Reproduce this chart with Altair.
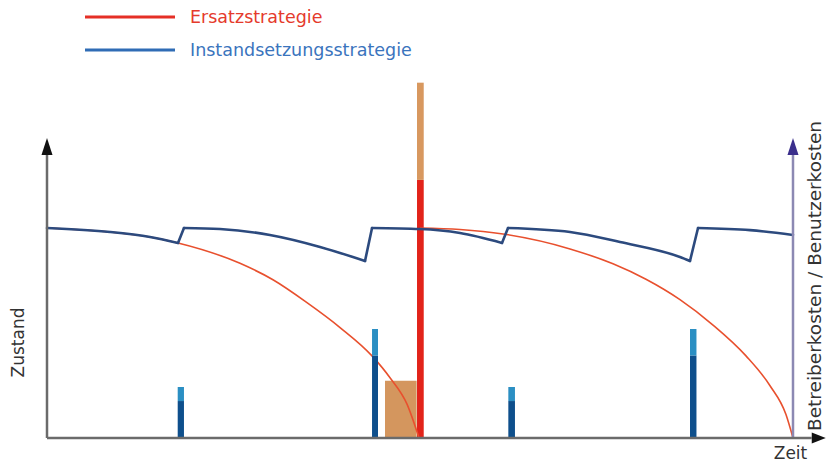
import altair as alt
import pandas as pd

# ---------------- data ----------------
# Instandsetzungsstrategie: condition per deterioration segment (Zeit, Zustand)
blue_seg_t = [
    [0.0, 8.45, 13.81, 17.56],
    [18.36, 23.19, 29.88, 36.60, 42.63],
    [43.57, 50.0, 55.36, 60.99],
    [61.80, 70.11, 76.81, 84.85, 86.19],
    [87.27, 94.24, 100.0],
]
blue_seg_z = [
    [100.0, 98.1, 95.7, 92.9],
    [100.0, 99.5, 96.7, 91.0, 84.3],
    [100.0, 99.5, 97.6, 92.9],
    [100.0, 98.1, 93.3, 86.2, 84.3],
    [100.0, 99.0, 96.7],
]
# Ersatzstrategie: condition per life cycle
red_seg_t = [
    [0.0, 8.45, 13.81, 17.56, 25.87, 30.29, 34.85, 39.28, 43.57, 45.98, 48.26, 49.87],
    [50.0, 55.36, 61.13, 70.11, 75.87, 80.29, 84.85, 89.28, 93.70, 96.92, 99.06, 100.0],
]
red_seg_z = [
    [100.0, 98.10, 95.73, 92.89, 83.18, 75.36, 64.46, 52.61, 39.10, 28.68, 16.12, 0.0],
    [100.0, 99.29, 97.16, 90.05, 82.94, 75.59, 65.88, 53.79, 39.10, 24.88, 11.14, 0.0],
]
# maintenance cost bars (Betreiberkosten dark, Benutzerkosten light)
maint_t0 = [17.52, 43.57, 61.84, 86.19]
maint_t1 = [18.36, 44.37, 62.73, 87.06]
maint_oper = [17.6, 39.3, 17.6, 39.3]
maint_total = [24.3, 51.9, 24.3, 51.9]
# replacement costs
user_block_t = [45.31, 49.55]
user_block_top = 27.3
repl_t = [49.6, 50.5]
repl_oper = 122.9
repl_total = 169.2

legend_labels = ["Ersatzstrategie", "Instandsetzungsstrategie"]
axis_y_title = "Zustand"
axis_y2_title = "Betreiberkosten / Benutzerkosten"
axis_x_title = "Zeit"

# ---------------- styling ----------------
BLUE_LINE = "#2c4a7e"
RED_LINE = "#e8502e"
DARK_BAR = "#0e4f8c"
LIGHT_BAR = "#2b8fc3"
ORANGE = "#d4965e"
RED_BAR = "#e2231a"
TAN = "#d8985f"
AXIS_GRAY = "#6b6b6b"
AXIS_PURPLE = "#8c89b3"
FONT = "DejaVu Sans"

W, H = 818, 456
xs = alt.Scale(domain=[-5.228, 104.424], nice=False, zero=False)
ys = alt.Scale(domain=[-12.381, 204.762], nice=False, zero=False)


def X(f):
    return alt.X(f, type="quantitative", scale=xs, axis=None)


def Y(f):
    return alt.Y(f, type="quantitative", scale=ys, axis=None)


def seg_df(ts, zs):
    rows = []
    for s, (tt, zz) in enumerate(zip(ts, zs)):
        for i, (t, z) in enumerate(zip(tt, zz)):
            rows.append({"seg": s, "i": i, "t": t, "z": z})
    return pd.DataFrame(rows)


def rect_layer(df, color):
    return alt.Chart(df).mark_rect(color=color).encode(
        x=X("t0"), x2="t1", y=Y("z0"), y2="z1")


blue_df = seg_df(blue_seg_t, blue_seg_z)
red_df = seg_df(red_seg_t, red_seg_z)
jump_rows = []
for s in range(len(blue_seg_t) - 1):
    jump_rows.append({"j": s, "i": 0, "t": blue_seg_t[s][-1], "z": blue_seg_z[s][-1]})
    jump_rows.append({"j": s, "i": 1, "t": blue_seg_t[s + 1][0], "z": blue_seg_z[s + 1][0]})
jump_df = pd.DataFrame(jump_rows)

oper_df = pd.DataFrame({"t0": maint_t0, "t1": maint_t1, "z0": [0.0] * 4, "z1": maint_oper})
user_df = pd.DataFrame({"t0": maint_t0, "t1": maint_t1, "z0": maint_oper, "z1": maint_total})
block_df = pd.DataFrame({"t0": [user_block_t[0]], "t1": [user_block_t[1]], "z0": [0.0], "z1": [user_block_top]})
repl_oper_df = pd.DataFrame({"t0": [repl_t[0]], "t1": [repl_t[1]], "z0": [0.0], "z1": [repl_oper]})
repl_user_df = pd.DataFrame({"t0": [repl_t[0]], "t1": [repl_t[1]], "z0": [repl_oper], "z1": [repl_total]})

red_layer = alt.Chart(red_df).mark_line(color=RED_LINE, strokeWidth=1.6, interpolate="monotone").encode(
    x=X("t"), y=Y("z"), detail="seg:N", order="i:Q")

blue_layer = alt.Chart(blue_df).mark_line(color=BLUE_LINE, strokeWidth=2.6, interpolate="monotone",
                                          strokeCap="round").encode(
    x=X("t"), y=Y("z"), detail="seg:N", order="i:Q")

jump_layer = alt.Chart(jump_df).mark_line(color=BLUE_LINE, strokeWidth=2.6, strokeCap="round").encode(
    x=X("t"), y=Y("z"), detail="j:N", order="i:Q")


def rule_layer(t0, t1, z0, z1, color):
    return alt.Chart(pd.DataFrame({"t0": [t0], "t1": [t1], "z0": [z0], "z1": [z1]})).mark_rule(
        strokeWidth=2.5, color=color).encode(x=X("t0"), x2="t1", y=Y("z0"), y2="z1")


def arrow_layer(t, z, shape, size, color):
    return alt.Chart(pd.DataFrame({"t": [t], "z": [z]})).mark_point(
        shape=shape, filled=True, size=size, opacity=1, color=color).encode(x=X("t"), y=Y("z"))


UP = "M-0.65,1L0,-1L0.65,1Z"
RIGHT = "M-1,-0.8L1,0L-1,0.8Z"

axis_layers = [
    rule_layer(0.0, 0.0, 0.0, 136.0, AXIS_GRAY),
    rule_layer(100.0, 100.0, 0.0, 136.0, AXIS_PURPLE),
    rule_layer(0.0, 102.5, 0.0, 0.0, AXIS_GRAY),
    arrow_layer(0.0, 138.8, UP, 289, "#111111"),
    arrow_layer(100.0, 138.8, UP, 289, "#3b2f8c"),
    arrow_layer(103.45, 0.0, RIGHT, 196, "#111111"),
]


def text_layer(label, x, y, size, color, angle=0, align="left", baseline="middle"):
    kw = dict(font=FONT, fontSize=size, color=color, align=align, baseline=baseline)
    if angle:
        kw["angle"] = angle
    return alt.Chart(pd.DataFrame({"label": [label]})).mark_text(**kw).encode(
        text="label:N", x=alt.value(x), y=alt.value(y))


one = pd.DataFrame({"a": [1]})
legend_layers = [
    alt.Chart(one).mark_rule(color="#e52f26", strokeWidth=3).encode(
        x=alt.value(77), x2=alt.value(167), y=alt.value(9)),
    alt.Chart(one).mark_rule(color="#2f6cb5", strokeWidth=3).encode(
        x=alt.value(77), x2=alt.value(167), y=alt.value(42)),
    text_layer(legend_labels[0], 182, 10, 17.5, "#e53a2c"),
    text_layer(legend_labels[1], 182, 43, 17.5, "#3a74bd"),
]

title_layers = [
    text_layer(axis_y_title, 15.5, 334.5, 17, "#333333", angle=270, align="center", baseline="alphabetic"),
    text_layer(axis_y2_title, 813, 268, 18.5, "#333333", angle=270, align="center", baseline="alphabetic"),
    text_layer(axis_x_title, 782.5, 451, 17, "#333333", align="center", baseline="alphabetic"),
]

chart = alt.layer(
    rect_layer(block_df, ORANGE),
    rect_layer(repl_oper_df, RED_BAR),
    rect_layer(repl_user_df, TAN),
    red_layer, blue_layer, jump_layer,
    rect_layer(oper_df, DARK_BAR),
    rect_layer(user_df, LIGHT_BAR),
    *axis_layers,
    *legend_layers,
    *title_layers,
).properties(
    width=W, height=H, padding=0, autosize=alt.AutoSizeParams(type="none")
).configure_view(strokeWidth=0)

chart.save("out.html", embed_options={"renderer": "svg", "actions": False})
